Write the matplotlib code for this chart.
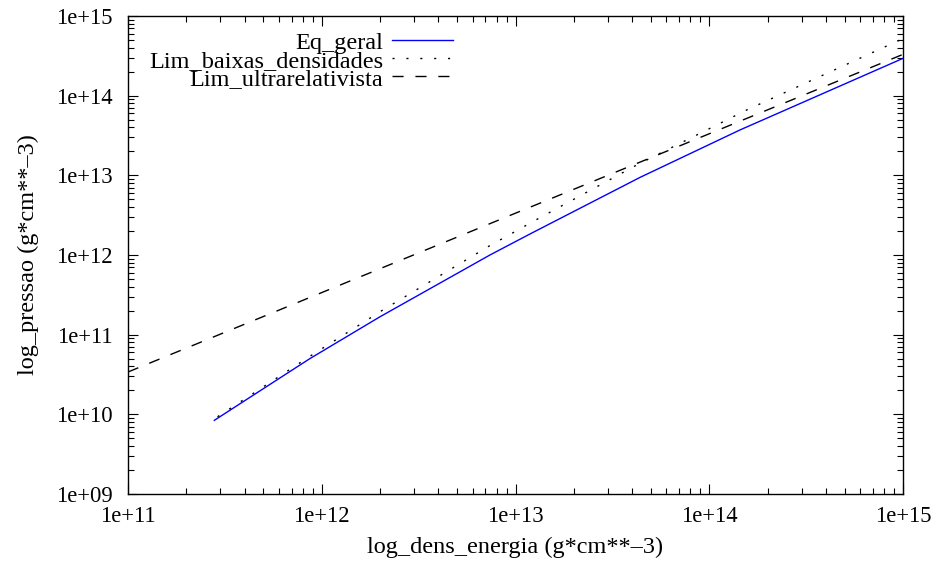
import matplotlib
matplotlib.use("Agg")
import matplotlib.pyplot as plt
from matplotlib.ticker import FixedLocator, FixedFormatter, LogLocator, NullFormatter

plt.rcParams['font.family'] = ['Liberation Serif', 'DejaVu Serif']
plt.rcParams['font.size'] = 16.3

# ---- data ----
eq_geral_x = [2.79e11, 8.69e11, 2.00e12, 7.38e12, 1.19e13, 4.40e13, 1.44e14, 1.0e15]
eq_geral_y = [8.41e9, 5.01e10, 1.68e11, 1.00e12, 1.84e12, 9.44e12, 3.71e13, 2.94e14]

baixas_x = [2.90e11, 8.79e11, 2.04e12, 7.33e12, 1.30e13, 4.23e13, 1.56e14, 8.24e14, 1.0e15]
baixas_y = [9.33e9, 5.45e10, 2.00e11, 1.30e12, 2.83e12, 1.35e13, 6.61e13, 4.20e14, 5.20e14]

ultra_x = [1.0e11, 1.0e15]
ultra_y = [3.4e10, 3.3e14]

labels = ["Eq_geral", "Lim_baixas_densidades", "Lim_ultrarelativista"]

x_ticks = [1e11, 1e12, 1e13, 1e14, 1e15]
x_tick_labels = ["1e+11", "1e+12", "1e+13", "1e+14", "1e+15"]
y_ticks = [1e9, 1e10, 1e11, 1e12, 1e13, 1e14, 1e15]
y_tick_labels = ["1e+09", "1e+10", "1e+11", "1e+12", "1e+13", "1e+14", "1e+15"]

x_label = "log_dens_energia (g*cm**\u20133)"
y_label = "log_pressao (g*cm**\u20133)"

# ---- figure ----
fig = plt.figure(figsize=(9.44, 5.62), dpi=100)
ax = fig.add_axes([128/944, 1-494/562, 775/944, 478/562])

ax.plot(eq_geral_x, eq_geral_y, color='#0000ff', lw=1.0, label=labels[0])
ax.plot(baixas_x, baixas_y, color='black', lw=1.0, linestyle=(0, (1.5, 8.5)), label=labels[1])
ax.plot(ultra_x, ultra_y, color='black', lw=1.0, linestyle=(0, (8, 8.5)), label=labels[2])

ax.set_xscale('log')
ax.set_yscale('log')
ax.set_xlim(1e11, 1e15)
ax.set_ylim(1e9, 1e15)

ax.xaxis.set_major_locator(FixedLocator(x_ticks))
ax.xaxis.set_major_formatter(FixedFormatter(x_tick_labels))
ax.yaxis.set_major_locator(FixedLocator(y_ticks))
ax.yaxis.set_major_formatter(FixedFormatter(y_tick_labels))
ax.xaxis.set_minor_locator(LogLocator(base=10, subs=range(2, 10), numticks=20))
ax.yaxis.set_minor_locator(LogLocator(base=10, subs=range(2, 10), numticks=20))
ax.xaxis.set_minor_formatter(NullFormatter())
ax.yaxis.set_minor_formatter(NullFormatter())

ax.tick_params(which='both', direction='in', top=True, right=True, width=0.8, colors='black')
ax.tick_params(which='major', length=7.5, labelsize=16.3)
ax.tick_params(which='minor', length=4)
ax.tick_params(axis='x', which='major', pad=9)
ax.tick_params(axis='y', which='major', pad=11)
for s in ax.spines.values():
    s.set_linewidth(1.0)

ax.set_xlabel(x_label, fontsize=17.5, labelpad=7)
ax.set_ylabel(y_label, fontsize=17.5, labelpad=12)

leg = ax.legend(loc='upper right', bbox_to_anchor=(0.419, 0.967), frameon=False,
                markerfirst=False, handlelength=2.5, handletextpad=0.35,
                labelspacing=-0.17, borderpad=0, borderaxespad=0,
                prop={'size': 17.5})

fig.savefig('out.png', dpi=100)
